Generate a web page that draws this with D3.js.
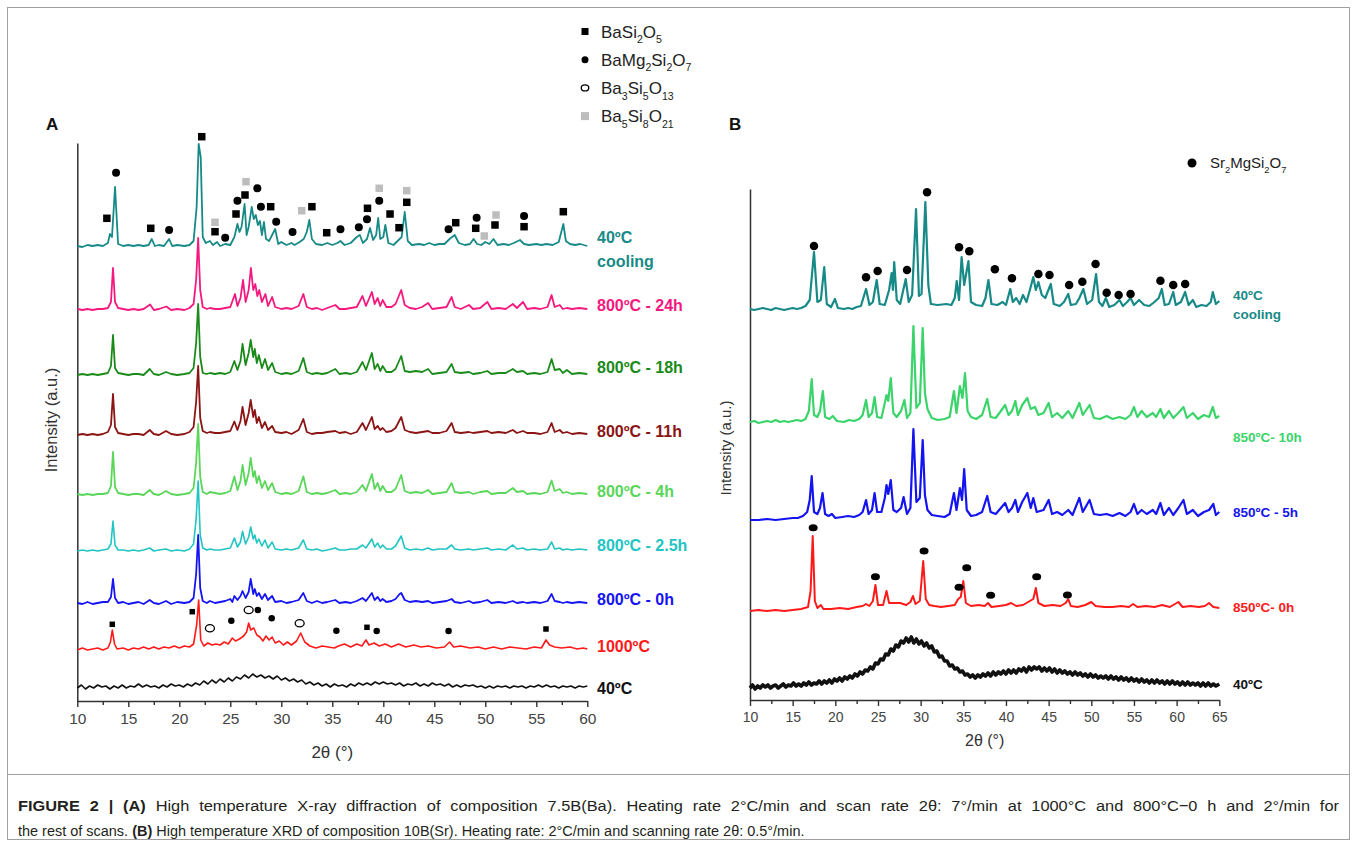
<!DOCTYPE html>
<html>
<head>
<meta charset="utf-8">
<script src="https://cdn.jsdelivr.net/npm/d3@7"></script>
<style>
  body { margin: 0; background: #fff; }
  svg text { font-family: "Liberation Sans", Arial, sans-serif; }
</style>
</head>
<body>
<div id="chart"></div>
<script>

// ---------- data : panel A (Ba composition), 2theta vs intensity (a.u., relative to each scan baseline)

const scansA = ["40ºC", "1000ºC", "800ºC - 0h", "800ºC - 2.5h", "800ºC - 4h", "800ºC - 11h", "800ºC - 18h", "800ºC - 24h", "40ºC cooling"]
const offsetsA = [13, 51, 97, 150, 206, 266, 326, 391, 454]

const a40 = [[10,0],[10.4,3],[10.8,-1],[11.2,2],[11.6,0],[12,3],[12.4,1],[12.8,2],[13.2,-1],[13.6,2],[14,0],[14.4,3],[14.8,0],[15.2,2],[15.6,1],[16,4],[16.4,1],[16.8,3],[17.2,1],[17.6,2],[18,0],[18.4,3],[18.8,1],[19.2,4],[19.6,2],[20,3],[20.4,1],[20.8,4],[21.2,2],[21.6,5],[22,3],[22.4,7],[22.8,4],[23.2,8],[23.6,5],[24,9],[24.4,6],[24.8,10],[25.2,7],[25.6,11],[26,9],[26.4,13],[26.8,10],[27.2,14],[27.6,11],[28,13],[28.4,10],[28.8,12],[29.2,9],[29.6,12],[30,8],[30.4,10],[30.8,7],[31.2,9],[31.6,6],[32,8],[32.4,4],[32.8,6],[33.2,3],[33.6,5],[34,2],[34.4,4],[34.8,1],[35.2,4],[35.6,2],[36,3],[36.4,1],[36.8,4],[37.2,2],[37.6,5],[38,3],[38.4,5],[38.8,3],[39.2,6],[39.6,4],[40,6],[40.4,4],[40.8,5],[41.2,3],[41.6,5],[42,2],[42.4,4],[42.8,3],[43.2,5],[43.6,2],[44,4],[44.4,2],[44.8,5],[45.2,3],[45.6,4],[46,2],[46.4,4],[46.8,1],[47.2,3],[47.6,1],[48,3],[48.4,2],[48.8,3],[49.2,1],[49.6,2],[50,0],[50.4,2],[50.8,0],[51.2,2],[51.6,1],[52,2],[52.4,0],[52.8,2],[53.2,1],[53.6,2],[54,0],[54.4,2],[54.8,1],[55.2,3],[55.6,1],[56,3],[56.4,1],[56.8,2],[57.2,0],[57.6,2],[58,1],[58.4,2],[58.8,0],[59.2,2],[59.6,1],[60,2]]

const a1000 = [[10,0],[10.5,2],[11,0],[11.5,1],[12,2],[12.5,0],[13,2],[13.25,8],[13.43,20],[13.65,6],[13.9,1],[14.5,2],[15,0],[15.5,2],[16,1],[16.5,3],[17,1],[17.5,3],[18,1],[18.5,3],[19,2],[19.5,4],[20,2],[20.5,4],[21,3],[21.4,6],[21.7,25],[21.9,50],[22.1,10],[22.4,4],[22.8,7],[23.2,5],[23.6,6],[24,5],[24.4,8],[24.8,6],[25.2,12],[25.5,9],[25.9,11],[26.3,14],[26.6,18],[26.8,27],[27.0,20],[27.3,22],[27.6,15],[27.9,13],[28.2,9],[28.5,14],[28.8,10],[29.1,13],[29.4,7],[29.8,9],[30.2,5],[30.6,8],[31,5],[31.5,9],[31.9,17],[32.3,8],[32.8,4],[33.4,2],[34,4],[34.6,3],[35.2,2],[35.6,4],[36.2,6],[36.8,3],[37.4,6],[37.9,4],[38.3,10],[38.6,5],[39.1,7],[39.6,4],[40.2,6],[40.8,3],[41.5,6],[42.2,3],[43,5],[43.7,3],[44.4,4],[45.2,2],[46,3],[46.5,8],[46.9,3],[47.6,4],[48.5,2],[49.3,3],[50,1],[50.8,3],[51.6,1],[52.4,3],[53.2,2],[54,1],[54.8,3],[55.5,2],[55.95,10],[56.3,5],[56.8,3],[57.5,2],[58.3,3],[59,1],[59.6,2],[60,1]]

const a0h = [[10,1],[10.5,0],[11,2],[11.5,0],[12,1],[12.5,2],[13,2],[13.3,7],[13.5,25],[13.7,6],[14,1],[14.5,2],[15,0],[15.5,1],[16,2],[16.5,0],[17.1,4],[17.5,1],[18,0],[18.7,3],[19.2,0],[19.8,2],[20.5,1],[21,2],[21.4,6],[21.65,30],[21.85,69],[22.05,16],[22.3,3],[22.7,1],[23,3],[23.5,1],[24,2],[24.5,3],[25,5],[25.2,2],[25.4,8],[25.7,4],[26.0,8],[26.2,13],[26.5,6],[26.8,12],[27.0,25],[27.25,10],[27.4,15],[27.6,8],[27.8,11],[28.1,5],[28.4,10],[28.7,4],[29.1,8],[29.4,2],[30,3],[30.5,1],[31,2],[31.7,4],[32.16,11],[32.5,3],[33,1],[33.5,3],[34,1],[34.5,2],[35.3,4],[35.7,1],[36.3,2],[36.8,1],[37.4,3],[37.96,6],[38.3,3],[38.88,11],[39.15,4],[39.45,7],[39.7,3],[39.94,5],[40.3,2],[40.8,3],[41.2,5],[41.6,10],[41.76,11],[42.1,4],[42.6,2],[43.2,3],[43.8,2],[44.4,3],[44.8,1],[45.5,2],[46.2,3],[46.7,5],[47.0,2],[47.6,1],[48.4,3],[48.8,1],[49.5,2],[50.2,4],[50.6,1],[51.3,2],[52,1],[52.7,3],[53.1,1],[53.7,2],[54.1,1],[54.8,2],[55.4,1],[56.1,3],[56.5,10],[56.8,3],[57.3,2],[57.6,1],[58,2],[58.5,1],[59.2,2],[60,1]]

const a2h5 = [[10,0],[10.5,1],[11,0],[11.5,1],[12,0],[12.5,1],[13,2],[13.3,7],[13.5,30],[13.7,6],[14,1],[14.5,1],[15,0],[15.5,1],[16,0],[16.5,1],[17.1,3],[17.5,0],[18,1],[18.7,2],[19.2,0],[19.8,1],[20.5,0],[21,2],[21.4,7],[21.65,32],[21.85,70],[22.05,16],[22.3,3],[22.7,1],[23,2],[23.5,1],[24,1],[24.5,2],[25,3],[25.4,13],[25.7,4],[26.0,9],[26.2,19.6],[26.5,7],[26.8,14],[27.0,24],[27.25,12],[27.4,16],[27.6,8],[27.8,12],[28.1,5],[28.4,11],[28.7,3],[29.1,9],[29.4,2],[30,1],[30.5,2],[31,1],[31.7,3],[32.16,11],[32.5,2],[33,1],[33.5,2],[34,0],[34.5,1],[35.3,3],[35.7,1],[36.3,1],[36.8,2],[37.4,2],[37.96,6],[38.3,3],[38.88,12],[39.15,4],[39.45,8],[39.7,3],[39.94,6],[40.3,2],[40.8,2],[41.2,5],[41.76,15],[42.1,3],[42.6,1],[43.2,2],[43.8,1],[44.4,3],[44.8,1],[45.5,2],[46.2,2],[46.7,6],[47.0,2],[47.6,1],[48.4,2],[48.8,1],[49.5,2],[50.2,3],[50.6,1],[51.3,2],[52,1],[52.7,6],[53.1,2],[53.7,3],[54.1,1],[54.8,2],[55.4,1],[56.1,2],[56.5,9],[56.8,2],[57.3,3],[57.6,1],[58,2],[58.5,1],[59.2,2],[60,1]]

const a4h = [[10,1],[10.5,0],[11,1],[11.5,0],[12,1],[12.5,1],[13,2],[13.3,9],[13.5,43],[13.7,8],[14,2],[14.5,1],[15,0],[15.5,1],[16,1],[16.5,0],[17.1,5],[17.5,1],[18,0],[18.7,4],[19.2,1],[19.8,0],[20.5,1],[21,2],[21.4,7],[21.65,32],[21.85,71],[22.05,18],[22.3,3],[22.7,1],[23,3],[23.5,2],[24,1],[24.5,2],[25,4],[25.4,18.6],[25.7,5],[26.0,14],[26.2,30],[26.5,10],[26.8,22],[27.0,37],[27.25,18],[27.4,24],[27.6,12],[27.8,19],[28.1,7],[28.4,14],[28.7,5],[29.1,12],[29.4,3],[30,1],[30.5,2],[31,1],[31.7,4],[32.16,18.6],[32.5,3],[33,1],[33.5,2],[34,1],[34.5,2],[35.3,5],[35.7,1],[36.3,2],[36.8,1],[37.4,3],[37.96,10],[38.3,4],[38.88,21],[39.15,6],[39.45,12],[39.7,4],[39.94,9],[40.3,3],[40.8,3],[41.2,6],[41.76,20],[42.1,4],[42.6,2],[43.2,3],[43.8,2],[44.4,5],[44.8,1],[45.5,2],[46.2,3],[46.7,12],[47.0,3],[47.6,2],[48.4,3],[48.8,1],[49.5,3],[50.2,4],[50.6,1],[51.3,2],[52,2],[52.7,7],[53.1,3],[53.7,4],[54.1,1],[54.8,2],[55.4,1],[56.1,3],[56.5,14.5],[56.8,4],[57.3,6],[57.6,2],[58,3],[58.5,1],[59.2,2],[60,1]]

const a11h = [[10,0],[10.5,1],[11,0],[11.5,1],[12,0],[12.5,1],[13,3],[13.3,10],[13.5,41],[13.7,8],[14,2],[14.5,1],[15,0],[15.5,1],[16,1],[16.5,0],[17.1,5],[17.5,1],[18,0],[18.7,4],[19.2,1],[19.8,0],[20.5,1],[21,3],[21.4,8],[21.65,33],[21.85,69],[22.05,17],[22.3,4],[22.7,2],[23,3],[23.5,2],[24,2],[24.5,3],[25,4],[25.4,13.5],[25.7,5],[26.0,14],[26.2,28],[26.5,10],[26.8,22],[27.0,35],[27.25,18],[27.4,25],[27.6,12],[27.8,18],[28.1,7],[28.4,13],[28.7,5],[29.1,9],[29.4,3],[30,2],[30.5,3],[31,1],[31.7,5],[32.16,16],[32.5,3],[33,1],[33.5,2],[34,2],[34.5,3],[35.3,4],[35.7,2],[36.3,3],[36.8,1],[37.4,3],[37.96,12],[38.3,5],[38.88,18],[39.15,6],[39.45,9],[39.7,5],[39.94,7],[40.3,3],[40.8,4],[41.2,7],[41.76,18],[42.1,5],[42.6,3],[43.2,2],[43.8,3],[44.4,4],[44.8,2],[45.5,2],[46.2,4],[46.7,12],[47.0,3],[47.6,2],[48.4,3],[48.8,2],[49.5,3],[50.2,4],[50.6,2],[51.3,3],[52,2],[52.7,5],[53.1,2],[53.7,4],[54.1,2],[54.8,2],[55.4,1],[56.1,3],[56.5,12],[56.8,3],[57.3,5],[57.6,2],[58,3],[58.5,1],[59.2,2],[60,1]]

const a18h = [[10,0],[10.5,1],[11,0],[11.5,1],[12,0],[12.5,1],[13,2],[13.3,9],[13.5,40],[13.7,7],[14,2],[14.5,1],[15,0],[15.5,1],[16,1],[16.5,0],[17.1,6],[17.5,1],[18,0],[18.7,3],[19.2,1],[19.8,0],[20.5,1],[21,2],[21.4,7],[21.65,32],[21.85,71],[22.05,18],[22.3,2],[22.7,1],[23,2],[23.5,1],[24,2],[24.5,1],[25,3],[25.4,14],[25.7,5],[26.0,14],[26.2,31],[26.5,10],[26.8,22],[27.0,35],[27.25,18],[27.4,26],[27.6,12],[27.8,20],[28.1,7],[28.4,16],[28.7,5],[29.1,12],[29.4,3],[30,1],[30.5,2],[31,1],[31.7,4],[32.16,17],[32.5,3],[33,1],[33.5,2],[34,1],[34.5,2],[35.3,6],[35.7,1],[36.3,2],[36.8,1],[37.4,3],[37.96,13],[38.3,5],[38.88,22],[39.15,6],[39.45,11],[39.7,4],[39.94,9],[40.3,3],[40.8,3],[41.2,6],[41.76,19],[42.1,4],[42.6,3],[43.2,4],[43.8,3],[44.4,6],[44.8,1],[45.5,2],[46.2,3],[46.7,11],[47.0,3],[47.6,2],[48.4,3],[48.8,1],[49.5,2],[50.2,4],[50.6,1],[51.3,2],[52,2],[52.7,6],[53.1,3],[53.7,4],[54.1,1],[54.8,2],[55.4,1],[56.1,3],[56.5,16],[56.8,5],[57.3,6],[57.6,2],[58,5],[58.5,1],[59.2,2],[60,1]]

const a24h = [[10,1],[10.5,0],[11,1],[11.5,0],[12,1],[12.5,1],[13,2],[13.3,8],[13.5,42],[13.7,8],[14,2],[14.5,1],[15,0],[15.5,1],[16,0],[16.5,1],[17.14,5.5],[17.5,0],[18,1],[18.73,3.5],[19.2,0],[19.8,1],[20.5,0],[21,2],[21.4,6],[21.65,30],[21.85,72],[22.05,20],[22.3,3],[22.7,1],[23,2],[23.5,1],[24,1],[24.5,2],[25,3],[25.46,16],[25.7,4],[26.0,12],[26.25,30],[26.5,8],[26.8,20],[27.02,42],[27.25,20],[27.45,26],[27.65,14],[27.84,20],[28.1,8],[28.44,16],[28.7,4],[29.1,13],[29.4,3],[30,1],[30.5,2],[31,1],[31.7,4],[32.16,16],[32.5,3],[33,1],[33.5,2],[34,0],[34.5,2],[35.3,5],[35.7,1],[36.3,1],[36.8,2],[37.4,3],[37.96,14],[38.3,4],[38.88,18],[39.15,6],[39.45,12],[39.7,4],[39.94,10],[40.3,3],[40.8,3],[41.2,6],[41.76,20],[42.1,5],[42.6,2],[43.2,1],[43.8,3],[44.4,7],[44.8,1],[45.5,2],[46.2,3],[46.7,13],[47.0,3],[47.6,1],[48.4,5],[48.8,1],[49.5,2],[50.2,8],[50.6,1],[51.3,2],[52,1],[52.7,6],[53.1,2],[53.7,8],[54.1,1],[54.8,2],[55.4,1],[56.1,3],[56.5,15],[56.8,3],[57.3,5],[57.6,1],[58,2],[58.5,1],[59.2,2],[60,1]]

const aCool = [[10,1],[10.5,0],[11,2],[11.5,1],[12,2],[12.5,1],[13,4],[13.2,13],[13.4,10],[13.7,60],[14.0,3],[14.5,1],[15,2],[15.5,1],[16,2],[16.5,1],[17.0,2],[17.3,8],[17.6,1],[18,2],[18.5,1],[19.0,8],[19.3,1],[19.8,2],[20.5,1],[21,2],[21.4,6],[21.7,40],[21.9,103],[22.1,90],[22.3,10],[22.6,4],[23,6],[23.3,2],[23.7,5],[24.0,1],[24.5,3],[25,2],[25.4,10],[25.7,23],[25.9,15],[26.1,20],[26.4,43],[26.6,12],[26.8,20],[27.1,40],[27.3,28],[27.5,32],[27.7,22],[27.9,26],[28.1,12],[28.3,25],[28.5,8],[28.8,6],[29.0,10],[29.4,18],[29.7,3],[30,5],[30.5,2],[31,4],[31.3,2],[31.8,5],[32.2,8],[32.5,15],[32.75,27],[33.0,8],[33.4,3],[34,2],[34.5,4],[35,2],[35.5,4],[35.8,6],[36.2,2],[36.8,4],[37.4,10],[37.7,12],[38.0,4],[38.4,8],[38.7,19],[39.0,7],[39.3,12],[39.5,29],[39.7,8],[40.0,10],[40.2,22],[40.5,4],[41,2],[41.4,6],[41.8,10],[42.1,35],[42.4,6],[42.8,2],[43.5,3],[44,2],[44.5,4],[45,2],[45.5,3],[46,3],[46.5,8],[47.0,12],[47.4,4],[48,2],[48.5,3],[48.85,8],[49.2,3],[49.6,2],[50.0,5],[50.4,3],[50.8,8],[51.2,2],[51.8,3],[52.3,2],[52.8,4],[53.4,7],[53.8,3],[54.3,2],[55,3],[55.5,2],[56,3],[56.6,2],[57.2,5],[57.65,23],[57.9,6],[58.3,3],[58.8,2],[59.3,3],[60,1]]

const patternsA = [a40, a1000, a0h, a2h5, a4h, a11h, a18h, a24h, aCool]

// phase markers on panel A: [phase, 2theta, intensity on the stacked scale]
const markersCoolA = [["sq",12.9,482.7],["ci",13.8,528.3],["sq",17.2,472.7],["ci",19.0,471],["sq",22.2,564.3],["gsq",23.5,478.7],["sq",23.5,469.3],["ci",24.5,463.3],["sq",25.56,487],["ci",25.7,500.3],["sq",26.44,506],["gsq",26.54,519.3],["ci",27.65,512.7],["ci",28.0,494.3],["sq",28.96,494.3],["ci",29.5,479.3],["ci",31.1,469],["gsq",32.0,490.3],["sq",33.0,494.3],["sq",34.45,468.3],["ci",35.8,471.7],["ci",37.6,473.7],["sq",38.45,492.7],["ci",38.4,481.7],["gsq",39.6,512.7],["ci",39.6,500.3],["sq",40.66,487],["sq",41.54,473.3],["gsq",42.3,510.3],["sq",42.3,498.7],["ci",46.4,471.7],["sq",47.1,478.3],["ci",49.15,483.3],["sq",49.06,472.7],["gsq",49.9,465],["gsq",51.05,486],["sq",50.95,476],["ci",53.8,485],["sq",53.8,474.3],["sq",57.65,489.3]]
const markers1000A = [["sq",13.43,76.7],["sq",21.27,89.3],["oc",23.0,72.7],["ci",25.1,80.3],["oc",26.8,91],["ci",27.7,91],["ci",29.06,82.7],["oc",31.8,77.7],["ci",35.4,70.3],["sq",38.4,73.7],["ci",39.35,70],["ci",46.4,70],["sq",55.95,72]]

const ticksA = [10, 15, 20, 25, 30, 35, 40, 45, 50, 55, 60]

// ---------- data : panel B (Sr composition)

const scansB = ["40ºC", "850ºC- 0h", "850ºC - 5h", "850ºC- 10h", "40ºC cooling"]
const offsetsB = [12, 89, 180, 277, 390]

const b40 = [[10,0],[10.3,3],[10.6,-1],[10.9,2],[11.2,0],[11.5,3],[11.8,1],[12.1,3],[12.4,0],[12.7,2],[13,3],[13.3,0],[13.6,2],[13.9,4],[14.2,1],[14.5,3],[14.8,2],[15.1,5],[15.4,2],[15.7,4],[16,2],[16.3,5],[16.6,3],[16.9,6],[17.2,3],[17.5,5],[17.8,4],[18.1,7],[18.4,4],[18.7,7],[19,5],[19.3,8],[19.6,5],[19.9,9],[20.2,7],[20.5,10],[20.8,7],[21.1,11],[21.4,9],[21.7,12],[22,10],[22.3,14],[22.6,12],[22.9,16],[23.2,14],[23.5,18],[23.8,17],[24.1,21],[24.4,19],[24.7,25],[25,24],[25.3,29],[25.6,28],[25.9,34],[26.2,33],[26.5,39],[26.8,37],[27.1,43],[27.4,41],[27.7,47],[28,45],[28.3,50],[28.6,46],[28.9,51],[29.2,45],[29.5,49],[29.8,44],[30.1,47],[30.4,42],[30.7,45],[31,40],[31.3,42],[31.6,36],[31.9,37],[32.2,31],[32.5,32],[32.8,27],[33.1,27],[33.4,22],[33.7,23],[34,19],[34.3,20],[34.6,16],[34.9,17],[35.2,13],[35.5,14],[35.8,11],[36.1,13],[36.4,10],[36.7,13],[37,11],[37.3,14],[37.6,12],[37.9,15],[38.2,12],[38.5,16],[38.8,13],[39.1,16],[39.4,14],[39.7,17],[40,14],[40.3,18],[40.6,15],[40.9,18],[41.2,15],[41.5,19],[41.8,17],[42.1,20],[42.4,16],[42.7,21],[43,18],[43.3,21],[43.6,19],[43.9,21],[44.2,17],[44.5,20],[44.8,17],[45.1,20],[45.4,16],[45.7,19],[46,15],[46.3,18],[46.6,15],[46.9,17],[47.2,14],[47.5,16],[47.8,13],[48.1,16],[48.4,13],[48.7,15],[49,12],[49.3,14],[49.6,11],[49.9,14],[50.2,11],[50.5,13],[50.8,10],[51.1,12],[51.4,10],[51.7,12],[52,9],[52.3,12],[52.6,9],[52.9,11],[53.2,8],[53.5,11],[53.8,8],[54.1,10],[54.4,7],[54.7,10],[55,7],[55.3,9],[55.6,6],[55.9,9],[56.2,6],[56.5,8],[56.8,5],[57.1,8],[57.4,5],[57.7,8],[58,5],[58.3,7],[58.6,4],[58.9,7],[59.2,4],[59.5,7],[59.8,4],[60.1,6],[60.4,3],[60.7,6],[61,3],[61.3,6],[61.6,3],[61.9,5],[62.2,3],[62.5,5],[62.8,2],[63.1,5],[63.4,2],[63.7,5],[64,2],[64.3,4],[64.6,2],[65,4]]

const b0h = [[10,0],[11,1],[12,0],[13,1],[14,0],[15,1],[16,2],[16.8,4],[17.1,20],[17.35,75],[17.6,10],[17.9,3],[18.3,6],[18.6,2],[19.5,2],[20.5,3],[21.5,2],[22.5,4],[23.2,5],[23.6,7],[24.0,5],[24.4,10],[24.7,26],[25.0,6],[25.6,6],[26.0,20],[26.3,8],[27,8],[27.6,8],[28.3,6],[28.8,9],[29.1,15],[29.4,7],[29.9,10],[30.3,50],[30.6,12],[31,6],[31.6,5],[32.4,4],[33.2,5],[34,6],[34.4,12],[34.7,14],[35.0,30],[35.3,8],[35.9,5],[36.8,6],[37.5,5],[37.9,8],[38.3,4],[39.2,5],[40,6],[40.6,8],[41.2,5],[42,6],[42.8,10],[43.2,12],[43.5,23],[43.8,8],[44.5,5],[45.5,6],[46.4,5],[47.0,8],[47.3,12],[47.6,5],[48.4,4],[49.3,6],[50.0,9],[50.5,5],[51.5,4],[52.5,4],[53.5,5],[54.4,4],[54.9,7],[55.4,4],[56.4,5],[57.4,4],[58.3,6],[59.2,4],[60.2,9],[60.7,4],[61.6,5],[62.6,4],[63.3,5],[63.8,8],[64.3,4],[65,3]]

const b5h = [[10,0],[11,0],[12,1],[13,0],[14,1],[15,2],[15.6,2],[16.2,4],[16.7,8],[17.0,20],[17.23,44],[17.5,8],[17.9,6],[18.2,12],[18.5,27],[18.8,6],[19.2,4],[19.6,6],[20,2],[20.8,3],[21.5,4],[22.2,3],[22.8,5],[23.2,8],[23.6,20],[23.9,6],[24.3,10],[24.6,27],[24.9,8],[25.4,8],[25.8,22],[26.0,35],[26.2,26],[26.5,40],[26.8,10],[27.2,8],[27.7,12],[28.0,23],[28.4,6],[28.8,12],[29.15,91],[29.5,18],[29.9,22],[30.24,80],[30.5,25],[30.8,10],[31.3,5],[32,4],[32.8,3],[33.4,6],[33.9,27],[34.2,10],[34.6,32],[34.85,20],[35.1,51],[35.4,10],[35.9,4],[36.5,5],[37.2,8],[37.8,24],[38.2,8],[38.8,6],[39.4,12],[39.9,17],[40.3,8],[40.7,12],[41.1,20],[41.4,8],[41.9,18],[42.5,27],[42.9,12],[43.2,22],[43.6,8],[44.4,10],[45.0,20],[45.4,6],[46,8],[46.6,5],[47.3,10],[47.8,5],[48.6,22],[49.0,8],[49.8,20],[50.3,6],[51,5],[51.8,6],[52.5,4],[53.3,7],[54,4],[54.6,8],[55.0,16],[55.4,6],[55.9,10],[56.5,6],[57.2,10],[57.6,6],[58.1,17],[58.5,5],[59.1,12],[59.6,5],[60.2,12],[60.8,20],[61.2,6],[61.9,10],[62.5,4],[63.2,8],[63.8,10],[64.3,16],[64.6,5],[65,8]]

const b10h = [[10,1],[10.5,2],[11,0],[11.5,1],[12,2],[12.5,1],[13,3],[13.5,1],[14,2],[14.5,1],[15,2],[15.5,3],[16,2],[16.5,4],[16.9,12],[17.23,44],[17.5,8],[17.9,6],[18.2,12],[18.54,32],[18.8,6],[19.3,4],[19.7,7],[20.2,2],[21,1],[21.6,3],[22.2,2],[22.8,4],[23.2,8],[23.6,23],[23.9,6],[24.3,10],[24.6,26],[24.9,6],[25.4,5],[25.8,20],[26.0,28],[26.2,22],[26.5,45],[26.8,10],[27.2,6],[27.7,12],[28.1,23],[28.4,5],[28.8,10],[29.15,97],[29.5,15],[29.9,20],[30.24,95],[30.5,30],[30.8,14],[31.3,5],[32,3],[32.8,4],[33.4,6],[33.9,32],[34.2,10],[34.6,37],[34.9,25],[35.2,50],[35.5,12],[35.9,6],[36.5,4],[37.2,8],[37.8,24],[38.2,6],[38.8,5],[39.4,12],[39.9,18],[40.3,8],[40.7,12],[41.1,22],[41.4,8],[41.9,18],[42.5,25],[42.9,14],[43.4,16],[43.8,8],[44.4,10],[45.0,20],[45.4,6],[46,10],[46.6,5],[47.3,12],[47.8,5],[48.6,20],[49.0,8],[49.8,18],[50.3,5],[51,4],[51.8,7],[52.5,4],[53.3,6],[54,4],[54.6,8],[55.0,16],[55.4,6],[55.9,12],[56.5,6],[57.2,10],[57.6,6],[58.1,14],[58.5,5],[59.1,12],[59.6,5],[60.2,10],[60.8,16],[61.2,5],[61.9,10],[62.5,4],[63.2,8],[63.8,6],[64.24,16],[64.6,5],[65,7]]

const bCool = [[10,1],[10.5,0],[11,1],[11.5,2],[12,1],[12.5,0],[13,2],[13.5,1],[14,0],[14.5,1],[15,2],[15.5,1],[16,2],[16.5,4],[17.0,10],[17.5,58],[17.9,8],[18.3,10],[18.7,43],[19.0,6],[19.5,3],[19.96,11],[20.3,2],[21,1],[21.5,2],[22,1],[22.5,3],[23,4],[23.6,21],[24.0,5],[24.4,8],[24.85,30],[25.2,6],[25.8,5],[26.3,20],[26.6,37],[26.75,20],[26.9,48],[27.2,10],[27.6,6],[28.25,31],[28.6,8],[29.0,15],[29.46,101],[29.8,14],[30.1,16],[30.55,108],[30.9,25],[31.2,6],[32,5],[33,6],[33.6,5],[34.0,12],[34.23,29],[34.5,10],[34.8,53],[35.1,25],[35.6,49],[35.9,8],[36.5,5],[37.2,4],[37.6,12],[37.94,30],[38.3,6],[39,5],[39.6,8],[40.0,5],[40.5,21],[40.8,8],[41.2,12],[41.6,6],[42,15],[42.4,8],[42.8,20],[43.2,33],[43.5,20],[43.8,28],[44.2,15],[44.6,12],[45.25,26],[45.6,6],[46.3,4],[46.8,8],[47.3,16],[47.6,5],[48.2,6],[48.6,12],[49.07,21],[49.5,6],[50.1,10],[50.56,36],[50.9,8],[51.3,4],[51.7,12],[52.1,3],[52.7,5],[53.3,10],[53.7,4],[54.2,8],[54.6,12],[55,5],[55.6,10],[56.2,5],[56.8,4],[57.4,8],[57.9,12],[58.26,21],[58.6,5],[59.1,6],[59.6,18],[59.9,5],[60.5,8],[61.0,18],[61.4,5],[61.9,10],[62.3,3],[62.9,5],[63.5,4],[64.0,8],[64.24,18],[64.6,6],[65,9]]

const patternsB = [b40, b0h, b5h, b10h, bCool]

const markersCoolB = [[17.5,454],[23.6,422.7],[24.96,429],[28.4,430],[30.75,507.7],[34.5,452.7],[35.7,448.7],[38.7,430.7],[40.7,421.7],[43.8,426],[45.1,425],[47.4,415],[48.95,418.3],[50.5,436],[51.8,407.3],[53.2,405],[54.6,406],[58.1,419.3],[59.6,415],[61.0,416]]
const markers0hB = [[17.4,172.3],[24.7,123.3],[30.4,149],[34.5,112.7],[35.4,132.3],[38.2,104.7],[43.6,123.3],[47.2,105]]

const ticksB = [10, 15, 20, 25, 30, 35, 40, 45, 50, 55, 60, 65]

// legend entries: label split into [text, isSubscript]
const legendA = [
  ["sq", [["BaSi",0],["2",1],["O",0],["5",1]]],
  ["ci", [["BaMg",0],["2",1],["Si",0],["2",1],["O",0],["7",1]]],
  ["oc", [["Ba",0],["3",1],["Si",0],["5",1],["O",0],["13",1]]],
  ["gsq", [["Ba",0],["5",1],["Si",0],["8",1],["O",0],["21",1]]]
]
const legendB = [["ci", [["Sr",0],["2",1],["MgSi",0],["2",1],["O",0],["7",1]]]]

const captionL1 = [["FIGURE 2 | (A)",1],[" High temperature X-ray diffraction of composition 7.5B(Ba). Heating rate 2°C/min and scan rate 2θ: 7°/min at 1000°C and 800°C−0 h and 2°/min for",0]]
const captionL2 = [["the rest of scans. ",0],["(B)",1],[" High temperature XRD of composition 10B(Sr). Heating rate: 2°C/min and scanning rate 2θ: 0.5°/min.",0]]

// ---------- styles

const colorsA = ["#111111", "#ff1a1a", "#1414f5", "#22c4c4", "#5ad65a", "#8b1414", "#1a8a1a", "#f5197f", "#178a87"]
const colorsB = ["#111111", "#ff1a1a", "#1414f0", "#3ad46a", "#178a87"]

const svg = d3.select("#chart").append("svg")
    .attr("width", 1357)
    .attr("height", 847)

// figure frame and caption box
svg.append("rect")
    .attr("x", 7.5).attr("y", 7.5)
    .attr("width", 1342).attr("height", 832)
    .attr("fill", "none").attr("stroke", "#a0a0a0")
svg.append("line")
    .attr("x1", 7.5).attr("x2", 1349.5)
    .attr("y1", 774.5).attr("y2", 774.5)
    .attr("stroke", "#a0a0a0")

function drawMarker(g, type, cx, cy, s){
    if (type === "sq" || type === "gsq") {
        g.append("rect")
            .attr("x", cx - s/2).attr("y", cy - s/2)
            .attr("width", s).attr("height", s)
            .attr("fill", type === "sq" ? "#000" : "#bdbdbd")
    } else if (type === "ci") {
        g.append("circle").attr("cx", cx).attr("cy", cy).attr("r", s/2).attr("fill", "#000")
    } else if (type === "ce") {
        g.append("ellipse").attr("cx", cx).attr("cy", cy)
            .attr("rx", s/2).attr("ry", s/2 * 0.78).attr("fill", "#000")
    } else {
        g.append("ellipse").attr("cx", cx).attr("cy", cy)
            .attr("rx", s/2).attr("ry", s/2 * 0.8)
            .attr("fill", "#fff").attr("stroke", "#000").attr("stroke-width", 1.3)
    }
}

// chemical formula with subscripts
function formula(g, x, y, parts, size){
    const t = g.append("text").attr("x", x).attr("y", y)
        .attr("font-size", size).attr("fill", "#222")
    let shift = 0
    parts.forEach(p => {
        const target = p[1] ? size * 0.33 : 0
        t.append("tspan")
            .attr("font-size", p[1] ? size * 0.62 : size)
            .attr("dy", target - shift)
            .text(p[0])
        shift = target
    })
}

function panel(opt){
    const g = svg.append("g")
    const x = d3.scaleLinear().domain(opt.xdom).range(opt.xr)
    const y = d3.scaleLinear().domain([0, opt.ymax]).range([opt.y0, opt.ytop])

    const minor = d3.range(opt.xdom[0] + 2.5, opt.xdom[1], 5)
    g.append("g")
        .attr("transform", `translate(0,${opt.y0})`)
        .call(d3.axisBottom(x).tickValues(minor).tickSize(4).tickFormat("").tickSizeOuter(0))
        .call(a => a.select(".domain").remove())
    const xa = g.append("g")
        .attr("class", "axis x-axis")
        .attr("transform", `translate(0,${opt.y0})`)
        .call(d3.axisBottom(x).tickValues(opt.ticks).tickSize(6).tickSizeOuter(0).tickPadding(6))
    xa.selectAll("text").attr("font-size", opt.tickFont).attr("fill", "#444")
        .attr("font-family", "'Liberation Sans', Arial, sans-serif")
    g.selectAll(".tick line").attr("stroke", "#333").attr("stroke-width", 1.4)
    xa.select(".domain").attr("stroke", "#333").attr("stroke-width", 1.5)

    g.append("g")
        .attr("transform", `translate(${opt.xr[0]},0)`)
        .call(d3.axisLeft(y).tickValues([]).tickSizeOuter(0))
        .select(".domain").attr("stroke", "#333").attr("stroke-width", 1.5)

    g.append("text")
        .attr("x", (opt.xr[0] + opt.xr[1]) / 2 + opt.xTitleDx).attr("y", opt.xTitleY)
        .attr("text-anchor", "middle").attr("font-size", opt.titleFont).attr("fill", "#333")
        .text("2θ (°)")
    g.append("text")
        .attr("transform", `translate(${opt.yTitleX},${opt.yTitleY}) rotate(-90)`)
        .attr("text-anchor", "middle").attr("font-size", opt.yTitleFont).attr("fill", "#333")
        .text("Intensity (a.u.)")

    const line = off => d3.line().x(d => x(d[0])).y(d => y(d[1] + off))
    opt.patterns.forEach((p, i) => {
        g.append("path")
            .attr("d", line(opt.offsets[i])(p))
            .attr("fill", "none")
            .attr("stroke", opt.colors[i])
            .attr("stroke-width", opt.widths[i])
            .attr("stroke-linejoin", "round")
    })

    // scan labels
    opt.scans.forEach((s, i) => {
        const words = s.endsWith("cooling") ? [s.replace(" cooling", ""), "cooling"] : [s]
        const ly = y(opt.offsets[i]) + opt.labelDy[i]
        words.forEach((w, k) => {
            g.append("text")
                .attr("x", opt.labelX).attr("y", ly + k * opt.labelLead)
                .attr("font-size", opt.labelFont).attr("font-weight", "bold")
                .attr("fill", opt.colors[i])
                .text(w)
        })
    })
    return {g, x, y}
}

// ---------- panel A
const A = panel({
    xdom: [10, 60], xr: [77.3, 587.3], y0: 701, ytop: 143, ymax: 558,
    ticks: ticksA, tickFont: 15.5, titleFont: 17, yTitleFont: 16.5,
    xTitleDx: 0, xTitleY: 758, yTitleX: 57, yTitleY: 420,
    patterns: patternsA, offsets: offsetsA, colors: colorsA,
    widths: [1.6, 1.6, 1.8, 1.6, 1.8, 1.8, 1.8, 1.8, 1.8],
    scans: scansA, labelX: 597, labelFont: 16, labelLead: 24,
    labelDy: [6, 2, 1, 0, 2, 2, -2, 1, -4]
})

markersCoolA.forEach(m => drawMarker(A.g, m[0], A.x(m[1]), A.y(m[2]), m[0] === "ci" ? 8 : 7.5))
markers1000A.forEach(m => drawMarker(A.g, m[0], A.x(m[1]), A.y(m[2]), m[0] === "oc" ? 9 : (m[0] === "ci" ? 6.5 : 5.5)))

svg.append("text").attr("x", 46).attr("y", 130)
    .attr("font-size", 17).attr("font-weight", "bold").attr("fill", "#111").text("A")

legendA.forEach((l, i) => {
    const cy = 31.5 + i * 28.2
    drawMarker(svg, l[0], 585, cy, l[0] === "oc" ? 7.5 : (l[0] === "gsq" ? 8 : 7))
    formula(svg, 601, cy + 6, l[1], 17)
})

// ---------- panel B
const B = panel({
    xdom: [10, 65], xr: [750, 1219.3], y0: 700, ytop: 189, ymax: 511,
    ticks: ticksB, tickFont: 14, titleFont: 16, yTitleFont: 15,
    xTitleDx: 0, xTitleY: 746, yTitleX: 731, yTitleY: 448,
    patterns: patternsB, offsets: offsetsB, colors: colorsB,
    widths: [3.6, 2, 2.2, 2.2, 2.2],
    scans: scansB, labelX: 1233, labelFont: 13.5, labelLead: 19,
    labelDy: [1, 1, -3, 19, -10]
})

markersCoolB.forEach(m => drawMarker(B.g, "ci", B.x(m[0]), B.y(m[1]), 8.5))
markers0hB.forEach(m => drawMarker(B.g, "ce", B.x(m[0]), B.y(m[1]), 9))

svg.append("text").attr("x", 729).attr("y", 130)
    .attr("font-size", 17).attr("font-weight", "bold").attr("fill", "#111").text("B")

legendB.forEach(l => {
    drawMarker(svg, l[0], 1192, 163, 9)
    formula(svg, 1210, 168, l[1], 15)
})

// ---------- caption: both lines fitted to the reference widths
function captionLine(parts, extraSpace){
    const t = svg.append("text").attr("x", 0).attr("y", 0)
        .attr("font-size", 15.5).attr("fill", "#231f20")
        .attr("word-spacing", extraSpace)
    parts.forEach(p => t.append("tspan").attr("font-weight", p[1] ? "bold" : null).text(p[0]))
    return t
}
const c2 = captionLine(captionL2, 0)
c2.attr("transform", `translate(18,836) scale(${787 / c2.node().getComputedTextLength()},1)`)
const c1 = captionLine(captionL1, 5)
c1.attr("transform", `translate(18,811) scale(${1322 / c1.node().getComputedTextLength()},1)`)

</script>
</body>
</html>
